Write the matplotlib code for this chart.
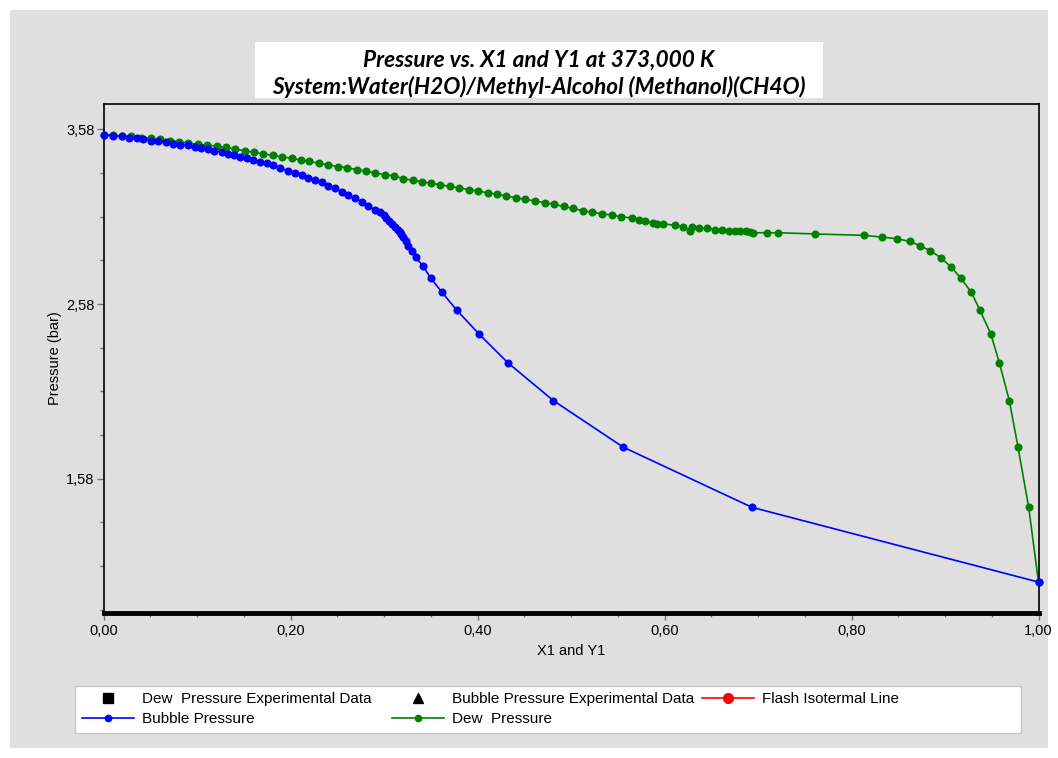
import matplotlib
matplotlib.use("Agg")
import matplotlib.pyplot as plt
from matplotlib.patches import Rectangle
from matplotlib.lines import Line2D
from matplotlib.ticker import FixedLocator

plt.rcParams['font.family'] = ['Liberation Sans', 'DejaVu Sans']

# ---------------- data ----------------
bubble_x = [0.000, 0.0105, 0.0195, 0.0276, 0.0355, 0.0425, 0.0507, 0.0586, 0.0668, 0.0746,
            0.0818, 0.0900, 0.0978, 0.1043, 0.1121, 0.1185, 0.1264, 0.1335, 0.1396, 0.1460,
            0.1532, 0.1602, 0.1674, 0.1745, 0.1810, 0.1888, 0.1976, 0.2048, 0.2120, 0.2190,
            0.2262, 0.2334, 0.2404, 0.2476, 0.2548, 0.2618, 0.2690, 0.2762, 0.2832, 0.2904,
            0.2952, 0.2995, 0.3025, 0.3056, 0.3086, 0.3118, 0.3147, 0.3169, 0.3182, 0.3203,
            0.3233, 0.3262, 0.3296, 0.3339, 0.3417, 0.3499, 0.3620, 0.3779, 0.4013, 0.4324,
            0.4811, 0.5560, 0.6936, 1.000]
bubble_p = [3.550, 3.542, 3.542, 3.532, 3.532, 3.524, 3.515, 3.515, 3.506, 3.496,
            3.490, 3.490, 3.480, 3.475, 3.467, 3.458, 3.448, 3.439, 3.433, 3.423,
            3.414, 3.404, 3.395, 3.385, 3.376, 3.357, 3.343, 3.328, 3.318, 3.300,
            3.290, 3.277, 3.257, 3.242, 3.223, 3.204, 3.185, 3.166, 3.143, 3.118,
            3.105, 3.089, 3.072, 3.055, 3.038, 3.022, 3.005, 2.990, 2.981, 2.963,
            2.938, 2.914, 2.886, 2.847, 2.798, 2.729, 2.647, 2.544, 2.410, 2.244,
            2.027, 1.760, 1.416, 0.988]

dew_y = [0.000, 0.0102, 0.0198, 0.0299, 0.0401, 0.0503, 0.0604, 0.0711, 0.0807, 0.0904,
         0.1011, 0.1107, 0.1211, 0.1310, 0.1406, 0.1513, 0.1610, 0.1706, 0.1810, 0.1909,
         0.2013, 0.2109, 0.2201, 0.2308, 0.2404, 0.2511, 0.2607, 0.2708, 0.2807, 0.2904,
         0.3011, 0.3107, 0.3206, 0.3307, 0.3403, 0.3503, 0.3599, 0.3701, 0.3802, 0.3904,
         0.4005, 0.4107, 0.4209, 0.4310, 0.4412, 0.4513, 0.4615, 0.4717, 0.4818, 0.4920,
         0.5021, 0.5125, 0.5221, 0.5328, 0.5435, 0.5532, 0.5656, 0.5730, 0.5791, 0.5874,
         0.5923, 0.5981, 0.6112, 0.6201, 0.6273, 0.6291, 0.6372, 0.6451, 0.6540, 0.6612,
         0.6690, 0.6754, 0.6807, 0.6868, 0.6914, 0.6950, 0.7093, 0.7217, 0.7610, 0.8137,
         0.8326, 0.8483, 0.8626, 0.8733, 0.8840, 0.8954, 0.9061, 0.9171, 0.9283, 0.9374,
         0.9489, 0.9581, 0.9688, 0.9781, 0.9895, 1.000]
dew_p = [3.550, 3.545, 3.542, 3.539, 3.533, 3.528, 3.523, 3.516, 3.509, 3.502,
         3.494, 3.490, 3.483, 3.476, 3.467, 3.457, 3.448, 3.440, 3.431, 3.423,
         3.414, 3.404, 3.396, 3.386, 3.376, 3.367, 3.360, 3.350, 3.340, 3.330,
         3.321, 3.313, 3.298, 3.288, 3.280, 3.271, 3.263, 3.254, 3.244, 3.235,
         3.227, 3.217, 3.208, 3.198, 3.188, 3.179, 3.170, 3.160, 3.151, 3.139,
         3.127, 3.114, 3.105, 3.097, 3.089, 3.080, 3.072, 3.063, 3.055, 3.045,
         3.038, 3.040, 3.030, 3.022, 2.996, 3.022, 3.015, 3.015, 3.005, 3.005,
         2.996, 2.996, 2.996, 2.996, 2.990, 2.988, 2.988, 2.988, 2.981, 2.973,
         2.963, 2.954, 2.938, 2.914, 2.885, 2.846, 2.794, 2.727, 2.646, 2.544,
         2.410, 2.244, 2.027, 1.760, 1.416, 0.988]

y_ticks = [1.58, 2.58, 3.58]
y_tick_labels = ["1,58", "2,58", "3,58"]
y_minor = [0.83, 1.08, 1.33, 1.83, 2.08, 2.33, 2.83, 3.08, 3.33]
x_ticks = [0.0, 0.2, 0.4, 0.6, 0.8, 1.0]
x_tick_labels = ["0,00", "0,20", "0,40", "0,60", "0,80", "1,00"]
x_minor = [0.05, 0.10, 0.15, 0.25, 0.30, 0.35, 0.45, 0.50, 0.55, 0.65, 0.70, 0.75, 0.85, 0.90, 0.95]

title_lines = ["Pressure vs. X1 and Y1 at 373,000 K",
               "System:Water(H2O)/Methyl-Alcohol (Methanol)(CH4O)"]

# ---------------- figure ----------------
W, H = 1058, 758
BG = '#dfdfdf'
fig = plt.figure(figsize=(W / 100, H / 100), dpi=100)
fig.patch.set_facecolor('white')
fig.patches.append(Rectangle((10 / W, 10 / H), 1038 / W, 738 / H,
                             transform=fig.transFigure, facecolor=BG,
                             edgecolor='none', zorder=-1))

ax = fig.add_axes([103.5 / W, 1 - 613 / H, 935 / W, 509 / H])
ax.set_facecolor(BG)
ax.set_xlim(0, 1)
ax.set_ylim(0.811, 3.725)

ax.plot(bubble_x, bubble_p, color='#0000ff', lw=1.2, marker='o', ms=4.8,
        mec='#0000ff', mfc='#0000ff', clip_on=False, zorder=3)
ax.plot(dew_y, dew_p, color='#008000', lw=1.2, marker='o', ms=4.8,
        mec='#008000', mfc='#008000', clip_on=False, zorder=2)

ax.xaxis.set_major_locator(FixedLocator(x_ticks))
ax.set_xticklabels(x_tick_labels)
ax.xaxis.set_minor_locator(FixedLocator(x_minor))
ax.yaxis.set_major_locator(FixedLocator(y_ticks))
ax.set_yticklabels(y_tick_labels)
ax.yaxis.set_minor_locator(FixedLocator(y_minor))
ax.tick_params(which='both', direction='out', color='#707070', labelsize=10.5, width=1)
ax.tick_params(which='major', length=5)
ax.tick_params(which='minor', length=3)
ax.tick_params(axis='y', which='major', pad=1.5)
ax.tick_params(axis='x', which='major', pad=3)

for s in ['left', 'top', 'right']:
    ax.spines[s].set_linewidth(1.2)
    ax.spines[s].set_color('black')
ax.spines['bottom'].set_linewidth(3.5)
ax.spines['bottom'].set_color('black')

ax.set_xlabel("X1 and Y1", fontsize=10.5, labelpad=4)
ax.set_ylabel("Pressure (bar)", fontsize=10.5, labelpad=3)

# title box
fig.patches.append(Rectangle((255 / W, 1 - 98 / H), 568 / W, 56 / H,
                             transform=fig.transFigure, facecolor='white',
                             edgecolor='none', zorder=0))
tfont = dict(family=['Lato', 'DejaVu Sans'], style='italic', weight='bold', fontsize=16.3)
fig.text(539 / W, 1 - 60 / H, title_lines[0], ha='center', va='center', **tfont)
fig.text(539 / W, 1 - 87 / H, title_lines[1], ha='center', va='center', **tfont)

# legend box
fig.patches.append(Rectangle((75 / W, 1 - 733 / H), 946 / W, 47 / H,
                             transform=fig.transFigure, facecolor='white',
                             edgecolor='#c8c8c8', lw=1, zorder=0))

h_dewexp = Line2D([], [], ls='none', marker='s', color='black', ms=7)
h_bubexp = Line2D([], [], ls='none', marker='^', color='black', ms=7)
h_flash = Line2D([], [], color='red', lw=1.2, marker='o', ms=7)
h_bub = Line2D([], [], color='#0000ff', lw=1.2, marker='o', ms=4.5)
h_dew = Line2D([], [], color='#008000', lw=1.2, marker='o', ms=4.5)

lkw = dict(frameon=False, fontsize=11, handlelength=3.4, handletextpad=0.5,
           labelspacing=0.42, borderpad=0, borderaxespad=0, loc='upper left')
leg1 = fig.legend([h_dewexp, h_bub], ["Dew  Pressure Experimental Data", "Bubble Pressure"],
                  bbox_to_anchor=(82 / W, 1 - 692 / H), **lkw)
leg2 = fig.legend([h_bubexp, h_dew], ["Bubble Pressure Experimental Data", "Dew  Pressure"],
                  bbox_to_anchor=(392 / W, 1 - 692 / H), **lkw)
leg3 = fig.legend([h_flash], ["Flash Isotermal Line"],
                  bbox_to_anchor=(702 / W, 1 - 692 / H), **lkw)

fig.savefig("out.png", dpi=100, facecolor=fig.get_facecolor())
